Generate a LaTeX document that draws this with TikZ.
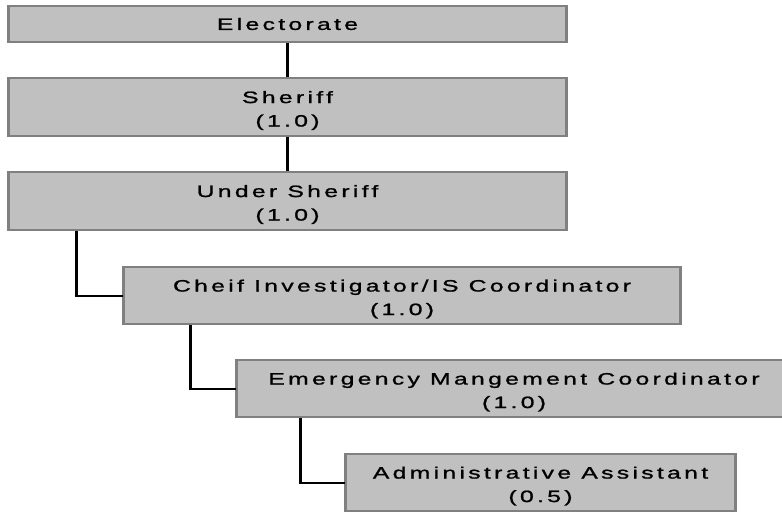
\documentclass[tikz,border=0pt]{standalone}
\usepackage{fontspec}
\setmainfont{Liberation Sans}
\newfontfamily\chartfont[FakeStretch=1.5,LetterSpace=20,FakeBold=1.2]{Liberation Sans}
\definecolor{boxfill}{HTML}{C0C0C0}
\definecolor{boxedge}{HTML}{808080}
% extra room above the first of two lines, to sit the text a little lower
\newcommand{\toppad}{\rule{0pt}{19pt}}
\begin{document}
\begin{tikzpicture}[x=1pt,y=-1pt,
  post/.style={draw=boxedge,fill=boxfill,line width=1.5pt,inner sep=0pt,
    align=center,font=\chartfont\fontsize{16.5}{23.5}\selectfont},
  sideedge/.style={draw=boxedge,line width=3pt},
  trunk/.style={draw=black,line width=3.5pt},
  branch/.style={draw=black,line width=2pt}]
\useasboundingbox (0,0) rectangle (782,512);
\fill[white] (0,0) rectangle (782,512);
\clip (0,0) rectangle (782,512);

% posts, top to bottom
\node[post,minimum width=557pt,minimum height=36pt] (el) at (287.5,24) {Electorate};
\node[post,minimum width=557pt,minimum height=58pt] (sh) at (287.5,107) {\toppad Sheriff\\(1.0)};
\node[post,minimum width=557pt,minimum height=58pt] (us) at (287.5,201) {\toppad Under Sheriff\\(1.0)};
\node[post,minimum width=556pt,minimum height=57pt] (ci) at (402,295.5) {\toppad Cheif Investigator/IS Coordinator\\(1.0)};
\node[post,minimum width=554pt,minimum height=57pt] (em) at (514,388.5) {\toppad Emergency Mangement Coordinator\\(1.0)};
\node[post,minimum width=389pt,minimum height=57pt] (aa) at (540.5,482.5) {\toppad Administrative Assistant\\(0.5)};

% heavier left and right edges of each post
\foreach \n in {el,sh,us,ci,em,aa} {
  \draw[sideedge] (\n.north west) -- (\n.south west);
  \draw[sideedge] (\n.north east) -- (\n.south east);
}

% reporting lines
\draw[trunk] (el.south) -- (sh.north);
\draw[trunk] (sh.south) -- (us.north);

\coordinate (k1) at ([xshift=68pt]us.south west);
\draw[trunk] (k1) -- (k1 |- ci.west);
\draw[branch] ([xshift=-1.75pt]k1 |- ci.west) -- (ci.west);

\coordinate (k2) at ([xshift=67pt]ci.south west);
\draw[trunk] (k2) -- (k2 |- em.west);
\draw[branch] ([xshift=-1.75pt]k2 |- em.west) -- (em.west);

\coordinate (k3) at ([xshift=64pt]em.south west);
\draw[trunk] (k3) -- (k3 |- aa.west);
\draw[branch] ([xshift=-1.75pt]k3 |- aa.west) -- (aa.west);
\end{tikzpicture}
\end{document}
